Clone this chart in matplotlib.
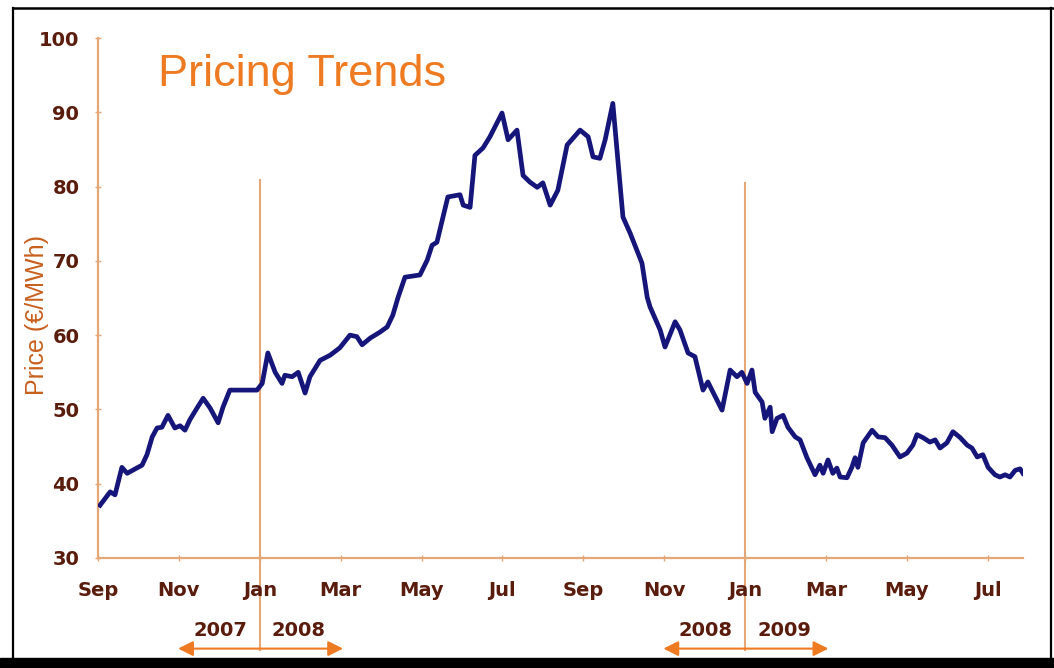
import matplotlib
matplotlib.use("Agg")
import matplotlib.pyplot as plt
from matplotlib.patches import Rectangle
from matplotlib.lines import Line2D

# Weekly wholesale price, x in months counted from 1 Sep 2007
months = [0.05, 0.30, 0.42, 0.59, 0.72, 1.09, 1.21, 1.34, 1.46, 1.58, 1.73, 1.90,
          2.03, 2.15, 2.27, 2.45, 2.60, 2.77, 2.97, 3.09, 3.26, 3.51, 3.93, 4.06,
          4.20, 4.38, 4.55, 4.62, 4.80, 4.95, 5.12, 5.24, 5.49, 5.74, 5.98, 6.23,
          6.40, 6.53, 6.73, 6.97, 7.15, 7.29, 7.42, 7.59, 7.96, 8.14, 8.26, 8.38,
          8.65, 8.95, 9.03, 9.20, 9.32, 9.52, 9.69, 9.99, 10.14, 10.36, 10.51, 10.68,
          10.86, 11.00, 11.18, 11.37, 11.60, 11.92, 12.12, 12.24, 12.41, 12.54, 12.73, 12.86,
          12.98, 13.16, 13.45, 13.58, 13.65, 13.90, 14.02, 14.27, 14.39, 14.59, 14.76, 14.96,
          15.08, 15.43, 15.63, 15.80, 15.92, 16.05, 16.17, 16.25, 16.42, 16.49, 16.62, 16.67,
          16.79, 16.94, 17.06, 17.24, 17.36, 17.53, 17.73, 17.85, 17.93, 18.05, 18.17, 18.27,
          18.35, 18.52, 18.64, 18.72, 18.79, 18.92, 19.14, 19.29, 19.46, 19.63, 19.83, 20.00,
          20.15, 20.25, 20.40, 20.57, 20.70, 20.82, 20.99, 21.14, 21.32, 21.49, 21.61, 21.74,
          21.88, 22.01, 22.18, 22.30, 22.43, 22.55, 22.68, 22.80, 22.87]
price = [37.1, 38.9, 38.5, 42.2, 41.4, 42.5, 43.9, 46.3, 47.5, 47.6, 49.2, 47.5,
         47.8, 47.2, 48.6, 50.2, 51.5, 50.2, 48.2, 50.3, 52.6, 52.6, 52.6, 53.5,
         57.6, 55.0, 53.5, 54.6, 54.4, 55.0, 52.2, 54.4, 56.6, 57.3, 58.3, 60.0,
         59.8, 58.7, 59.6, 60.4, 61.1, 62.7, 65.1, 67.8, 68.1, 70.1, 72.1, 72.5,
         78.6, 78.9, 77.5, 77.2, 84.2, 85.2, 86.7, 89.9, 86.3, 87.6, 81.5, 80.6,
         79.9, 80.5, 77.5, 79.5, 85.6, 87.6, 86.7, 84.0, 83.8, 86.3, 91.2, 83.2,
         75.9, 73.7, 69.7, 65.1, 63.8, 60.7, 58.4, 61.8, 60.7, 57.6, 57.1, 52.6,
         53.7, 49.9, 55.3, 54.4, 55.0, 53.5, 55.3, 52.3, 51.0, 48.8, 50.3, 47.0,
         48.8, 49.2, 47.6, 46.3, 45.9, 43.5, 41.2, 42.5, 41.4, 43.2, 41.4, 42.1,
         40.9, 40.8, 42.2, 43.5, 42.2, 45.5, 47.2, 46.3, 46.2, 45.2, 43.6, 44.1,
         45.2, 46.6, 46.2, 45.6, 45.9, 44.8, 45.5, 47.0, 46.2, 45.2, 44.8, 43.6,
         43.9, 42.2, 41.2, 40.9, 41.2, 40.9, 41.8, 42.0, 41.4]

tick_months = [0, 2, 4, 6, 8, 10, 12, 14, 16, 18, 20, 22]
tick_labels = ["Sep", "Nov", "Jan", "Mar", "May", "Jul",
               "Sep", "Nov", "Jan", "Mar", "May", "Jul"]
y_ticks = [30, 40, 50, 60, 70, 80, 90, 100]

# year boundaries and the spans shown under the axis
year_marks = [4, 16]
year_pairs = [("2007", "2008"), ("2008", "2009")]

navy = "#16167a"
tan = "#e6a777"
orange = "#ee7a22"
brown = "#5a1c0c"
bold_font = ["DejaVu Sans"]

fig = plt.figure(figsize=(10.54, 6.68), dpi=100)
ax = fig.add_axes([0.093, 0.1647, 0.8775, 0.7784])

ax.plot(months, price, color=navy, lw=3.4, solid_joinstyle="round", zorder=3)

ax.set_xlim(0, 22.87)
ax.set_ylim(30, 100)
ax.set_xticks(tick_months)
ax.set_xticklabels(tick_labels)
ax.set_yticks(y_ticks)

for s in ["top", "right"]:
    ax.spines[s].set_visible(False)
for s in ["left", "bottom"]:
    ax.spines[s].set_color(tan)
    ax.spines[s].set_linewidth(1.6)

ax.tick_params(axis="both", colors=tan, length=5, width=1, direction="inout")
ax.tick_params(axis="y", pad=11)
ax.tick_params(axis="x", pad=14)
for lab in ax.get_xticklabels() + ax.get_yticklabels():
    lab.set_color(brown)
    lab.set_fontfamily(bold_font)
    lab.set_fontweight("bold")
    lab.set_fontsize(14)

ax.set_ylabel("Price (€/MWh)", color="#c8601e", fontsize=18,
              family=["Liberation Sans", "DejaVu Sans"])
ax.yaxis.set_label_coords(-0.053, 0.467)

ax.text(0.065, 0.929, "Pricing Trends", transform=ax.transAxes, color=orange,
        fontsize=32.5, family=["Liberation Sans", "DejaVu Sans"], va="center")

# vertical year separators with a double arrow underneath
tops = [80.9, 80.5]
for xm, top, (y1, y2) in zip(year_marks, tops, year_pairs):
    ax.plot([xm, xm], [top, 17.6], color=tan, lw=1.5, clip_on=False, zorder=1)
    ax.annotate("", xy=(xm - 2.02, 17.8), xytext=(xm + 2.06, 17.8),
                xycoords="data", annotation_clip=False,
                arrowprops=dict(arrowstyle="<|-|>,head_length=0.9,head_width=0.45",
                                color=orange, lw=1.5, shrinkA=0, shrinkB=0))
    ax.text(xm - 0.3, 20.3, y1, ha="right", va="center", color=brown,
            fontsize=14, fontweight="bold", family=bold_font)
    ax.text(xm + 0.3, 20.3, y2, ha="left", va="center", color=brown,
            fontsize=14, fontweight="bold", family=bold_font)

# black frame around the slide
fig.add_artist(Line2D([13 / 1054, 13 / 1054], [0, 1 - 8 / 668], color="black", lw=1.6))
fig.add_artist(Line2D([13 / 1054, 1], [1 - 8 / 668, 1 - 8 / 668], color="black", lw=1.8))
fig.add_artist(Line2D([1051 / 1054, 1051 / 1054], [0, 1 - 8 / 668], color="black", lw=1.6))
fig.add_artist(Rectangle((0, 0), 1, 10 / 668, transform=fig.transFigure,
                         color="black", zorder=5))

fig.savefig("out.png", dpi=100)
